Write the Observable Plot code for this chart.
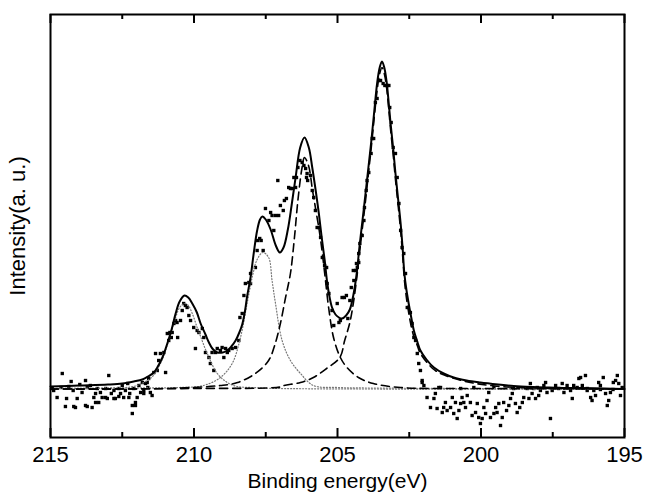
<!DOCTYPE html>
<html>
<head>
<meta charset="utf-8">
<script src="https://cdn.jsdelivr.net/npm/d3@7"></script>
<script src="https://cdn.jsdelivr.net/npm/@observablehq/plot@0.6"></script>
<style>
  html, body { margin: 0; padding: 0; background: #fff; }
  #chart { width: 645px; height: 499px; }
</style>
</head>
<body>
<div id="chart"></div>
<script>
// Binding energy (eV) tick values
const majorTicks = [215, 210, 205, 200, 195];
const minorTicks = [212.5, 207.5, 202.5, 197.5];

// Measured spectrum: [binding energy (eV), intensity (a.u.)]
const spectrum = [
  [214.94,49],[214.89,47],[214.77,40],[214.59,64],[214.63,50],[214.48,31],[214.44,39],[214.36,51],[214.28,56],[214.21,47],
  [214.13,30],[214.07,39],[213.98,53],[213.90,45],[213.78,57],[213.78,32],[213.72,50],[213.61,52],[213.55,30],[213.49,40],
  [213.43,44],[213.32,35],[213.37,49],[213.26,45],[213.20,40],[213.08,49],[212.97,62],[213.02,39],[212.88,44],[212.79,47],
  [212.74,39],[212.62,49],[212.56,44],[212.50,52],[212.45,40],[212.39,47],[212.31,54],[212.24,44],[212.15,24],[212.10,49],
  [212.04,32],[211.98,40],[211.92,52],[211.86,45],[211.80,55],[211.75,44],[211.69,54],[211.63,55],[211.58,59],[211.61,50],
  [211.52,45],[211.40,65],[211.28,67],[211.23,77],[211.34,84],[211.17,84],[210.99,65],[211.05,85],
  [214.19,31],[213.72,31],[213.43,35],[213.08,40],[212.79,39],[212.62,41],[212.27,40],[212.15,32],[212.04,35],[211.75,47],[211.46,42],
  [210.93,104],[210.84,105],[210.76,105],[210.79,100],[210.88,97],[210.70,114],[210.64,117],[210.59,115],[210.57,100],[210.47,117],
  [210.41,127],[210.36,134],[210.30,132],[210.24,130],[210.18,122],[210.12,117],[210.01,110],[209.89,107],[209.95,89],[209.83,105],
  [209.71,109],[209.66,100],[209.60,85],[209.48,80],[209.43,74],[209.31,67],[209.37,85],[209.25,85],[209.19,89],[209.08,87],
  [209.02,90],[208.96,80],[208.90,89],[208.84,85],[208.79,87],[208.67,89],[208.55,90],[208.44,97],[208.40,120],[208.32,124],
  [208.26,142],[208.21,154],[208.09,155],[208.03,154],
  [208.03,164],[207.86,170],[207.80,187],[207.71,199],[207.66,197],[207.78,197],[207.59,187],[207.51,229],[207.39,217],[207.33,225],
  [207.28,222],[207.22,207],[207.16,222],[207.08,257],[207.05,222],[206.99,232],[206.89,227],[206.85,237],[206.78,239],[206.70,250],
  [206.64,249],[206.58,249],[206.52,260],[206.43,260],[206.46,250],[206.38,270],[206.31,277],[206.23,275],[206.17,272],[206.11,269],
  [206.06,264],[206.08,260],[206.04,257],[205.94,262],[205.88,247],[205.83,240],[205.77,227],[205.71,210],[205.65,210],[205.59,200],
  [205.53,180],[205.45,172],[205.38,170],
  [205.36,154],[205.30,144],[205.19,127],[205.13,112],[205.01,134],[204.95,115],[204.90,117],[204.84,140],[204.76,140],[204.69,142],
  [204.64,119],[204.57,137],[204.52,150],[204.45,167],[204.34,174],[204.26,175],
  [204.43,157],[204.37,167],[204.31,170],[204.26,184],[204.22,194],[204.14,202],[204.08,217],[204.06,230],[204.00,247],[203.97,257],
  [203.91,265],[203.83,284],[203.79,299],[203.74,299],[203.68,335],[203.62,339],[203.56,357],[203.50,357],[203.41,354],[203.35,352],
  [203.27,352],[203.21,352],[203.18,330],[203.13,315],[203.06,290],[202.98,284],[202.92,260],[202.86,234],[202.80,207],[202.75,190],
  [202.69,184],[202.63,164],
  [202.57,130],[202.46,125],[202.40,114],[202.34,100],[202.28,97],[202.22,84],[202.17,74],[202.11,67],[202.05,55],[201.99,52],
  [201.88,40],[201.76,30],[201.64,39],[201.59,44],[201.53,29],[201.47,50],[201.35,25],[201.30,30],[201.24,35],[201.18,27],
  [201.06,30],[201.00,40],[200.95,24],[200.89,35],[200.83,19],[200.77,27],[200.71,34],[200.66,40],[200.60,35],[200.54,30],
  [200.48,42],[200.37,35],[200.31,22],[200.19,25],[200.13,34],[200.08,20],[200.02,14],[199.96,19],[199.90,30],[199.84,24],
  [199.79,37],[199.73,45],[199.67,20],[199.55,24],[199.49,30],[199.44,25],[199.38,34],[199.32,12],[199.26,20],[199.21,35],
  [199.11,27],[199.03,32],[198.97,39],[198.91,44],[198.80,34],[198.74,25],[198.65,30],[198.56,35],[198.51,40],[198.39,49],
  [198.33,39],[198.28,54],[198.22,44],[198.16,49],[198.10,39],[197.99,42],[197.93,47],[197.81,52],[197.75,55],[197.70,45],
  [197.58,19],[197.52,47],[197.40,52],[197.29,49],[197.17,54],[197.11,45],[197.00,52],[196.88,47],[196.82,39],[196.77,52],
  [196.65,50],[196.59,59],
  [201.41,50],[200.71,49],[200.25,50],[199.55,50],[198.86,49],[198.04,50],[202.05,57],
  [196.53,60],[196.47,52],[196.36,62],[196.30,47],[196.18,40],[196.13,37],[196.07,47],[196.01,42],[195.90,55],[195.84,52],
  [195.74,60],[195.66,44],[195.60,32],[195.55,37],[195.49,45],[195.39,55],[195.31,57],[195.25,62],[195.20,54],[195.14,42],
  [195.08,50],[196.30,49],[195.84,48],[195.40,48]
];

// Fitted envelope (solid)
const fitEnvelope = [
  [215.0,51],[214.0,52],[213.0,53],[212.5,54],[212.1,56],[211.8,58],[211.6,61],[211.4,65],[211.28,70],[211.1,80],
  [210.93,94],[210.78,108],[210.64,124],[210.5,136],[210.33,142],[210.2,140],[210.06,134],[209.9,125],[209.77,114],[209.6,103],
  [209.48,95],[209.33,88],[209.19,85],[209.0,85],[208.84,87],[208.7,91],[208.55,97],[208.42,105],[208.32,113],[208.22,127],
  [208.15,141],[208.03,160],[207.92,184],[207.8,207],[207.7,218],[207.62,221],[207.5,218],[207.33,208],[207.15,192],[207.01,185],
  [206.88,190],[206.73,208],[206.6,232],[206.46,260],[206.3,290],[206.15,300],[206.0,290],[205.88,270],[205.75,245],[205.65,224],
  [205.55,200],[205.45,178],[205.36,155],[205.28,141],[205.19,130],[205.07,123],[204.95,120],[204.84,119],[204.7,122],[204.57,128],
  [204.45,142],[204.34,162],[204.23,192],[204.11,222],[204.0,250],[203.9,276],[203.82,297],[203.72,326],[203.62,354],[203.53,370],
  [203.45,376],[203.37,370],[203.29,356],[203.22,336],[203.15,314],[203.06,289],[202.98,264],[202.89,239],[202.8,214],[202.73,189],
  [202.67,164],[202.6,148],[202.52,134],[202.43,120],[202.34,107],[202.22,96],[202.11,87],[201.9,78],[201.64,70],[201.3,64],
  [200.95,60],[200.5,57],[200.02,55],[199.4,53],[198.86,51.5],[198.2,50.5],[197.69,50],[197.0,49.5],[196.53,49.5],[195.7,49],[195.0,48.5]
];

// Component peaks
const peakA = [ // dashed, ~203.45 eV
  [215,48.5],[210,49],[207.0,50.5],[206.87,52],[206.29,55],[205.84,60],[205.38,69],[204.92,80],[204.75,97],[204.57,115],
  [204.45,134],[204.34,157],[204.23,185],[204.11,215],[204.0,243],[203.9,270],[203.82,291],[203.72,320],[203.62,347],[203.53,364],
  [203.45,370],[203.37,364],[203.29,350],[203.22,330],[203.15,308],[203.06,283],[202.98,258],[202.89,233],[202.8,207],[202.73,182],
  [202.67,158],[202.6,140],[202.52,125],[202.43,111],[202.34,101],[202.22,92],[202.11,84],[201.64,68],[201.24,62],[200.37,55],
  [199.32,51],[198,49.5],[195,48.5]
];
const peakB = [ // dashed, ~206.15 eV
  [215,48.5],[211,49],[209.08,52],[208.48,55],[207.86,64],[207.4,77],[207.19,92],[206.99,114],[206.81,140],[206.64,164],
  [206.5,200],[206.38,237],[206.24,269],[206.15,280],[206.01,272],[205.87,247],[205.77,230],[205.6,200],[205.45,165],[205.3,128],
  [205.13,99],[204.9,80],[204.67,70],[204.27,60],[203.75,54],[202.8,50],[200,49],[195,48.5]
];
const peakC = [ // dotted, ~207.6 eV
  [215,49],[212,49.5],[210.5,50],[209.67,52],[209.08,60],[208.67,74],[208.38,100],[208.15,134],[207.95,163],[207.8,178],
  [207.6,185],[207.4,180],[207.28,157],[207.16,134],[206.93,97],[206.64,77],[206.29,64],[205.84,52],[205.0,50],[204,49.5],[195,48.5]
];
const peakD = [ // dotted, ~210.3 eV
  [215,49],[213,49.5],[212.2,50.5],[211.9,53],[211.52,59],[211.28,68],[211.05,82],[210.85,100],[210.64,120],[210.5,130],
  [210.33,134],[210.2,132],[210.06,124],[209.89,110],[209.77,101],[209.6,88],[209.54,84],[209.19,64],[208.84,55],[208.5,51],
  [208.0,50],[207,49],[195,48.5]
];

const X = d => d[0], Y = d => d[1];
const font = "'Liberation Sans', Arial, Helvetica, sans-serif";
const innerH = 499 - 14 - 62; // plot frame height in px

const chart = Plot.plot({
  width: 645,
  height: 499,
  marginLeft: 50,
  marginRight: 21,
  marginTop: 14,
  marginBottom: 62,
  style: { fontFamily: font, background: "white", color: "black", overflow: "visible" },
  x: { domain: [215, 195] },
  y: { domain: [0, 423], axis: null },
  marks: [
    Plot.dot(spectrum, { x: X, y: Y, symbol: "square", r: 1.9, fill: "black", stroke: "none" }),
    Plot.line(peakD, { x: X, y: Y, stroke: "#777", strokeWidth: 1.2, strokeDasharray: "1,2", curve: "catmull-rom" }),
    Plot.line(peakC, { x: X, y: Y, stroke: "#777", strokeWidth: 1.2, strokeDasharray: "1,2", curve: "catmull-rom" }),
    Plot.line(peakB, { x: X, y: Y, stroke: "black", strokeWidth: 1.6, strokeDasharray: "8,5", curve: "catmull-rom" }),
    Plot.line(peakA, { x: X, y: Y, stroke: "black", strokeWidth: 1.6, strokeDasharray: "8,5", curve: "catmull-rom" }),
    Plot.line(fitEnvelope, { x: X, y: Y, stroke: "black", strokeWidth: 2, curve: "catmull-rom" }),
    // inward ticks on bottom and top edges
    Plot.tickX(majorTicks, { x: d => d, stroke: "black", strokeWidth: 2, insetTop: innerH - 9 }),
    Plot.tickX(minorTicks, { x: d => d, stroke: "black", strokeWidth: 2, insetTop: innerH - 5 }),
    Plot.tickX(majorTicks, { x: d => d, stroke: "black", strokeWidth: 2, insetBottom: innerH - 9 }),
    Plot.tickX(minorTicks, { x: d => d, stroke: "black", strokeWidth: 2, insetBottom: innerH - 5 }),
    Plot.frame({ stroke: "black", strokeWidth: 2 }),
    Plot.axisX(majorTicks, { anchor: "bottom", tickSize: 0, tickPadding: 9, fontSize: 22, label: null }),
    Plot.text(["Binding energy(eV)"], { frameAnchor: "bottom", dy: 50, fontSize: 21, fill: "black", textAnchor: "middle" }),
    Plot.text(["Intensity(a. u.)"], { frameAnchor: "left", rotate: -90, dx: -33, fontSize: 22, fill: "black", textAnchor: "middle" })
  ]
});
document.getElementById("chart").appendChild(chart);
</script>
</body>
</html>
